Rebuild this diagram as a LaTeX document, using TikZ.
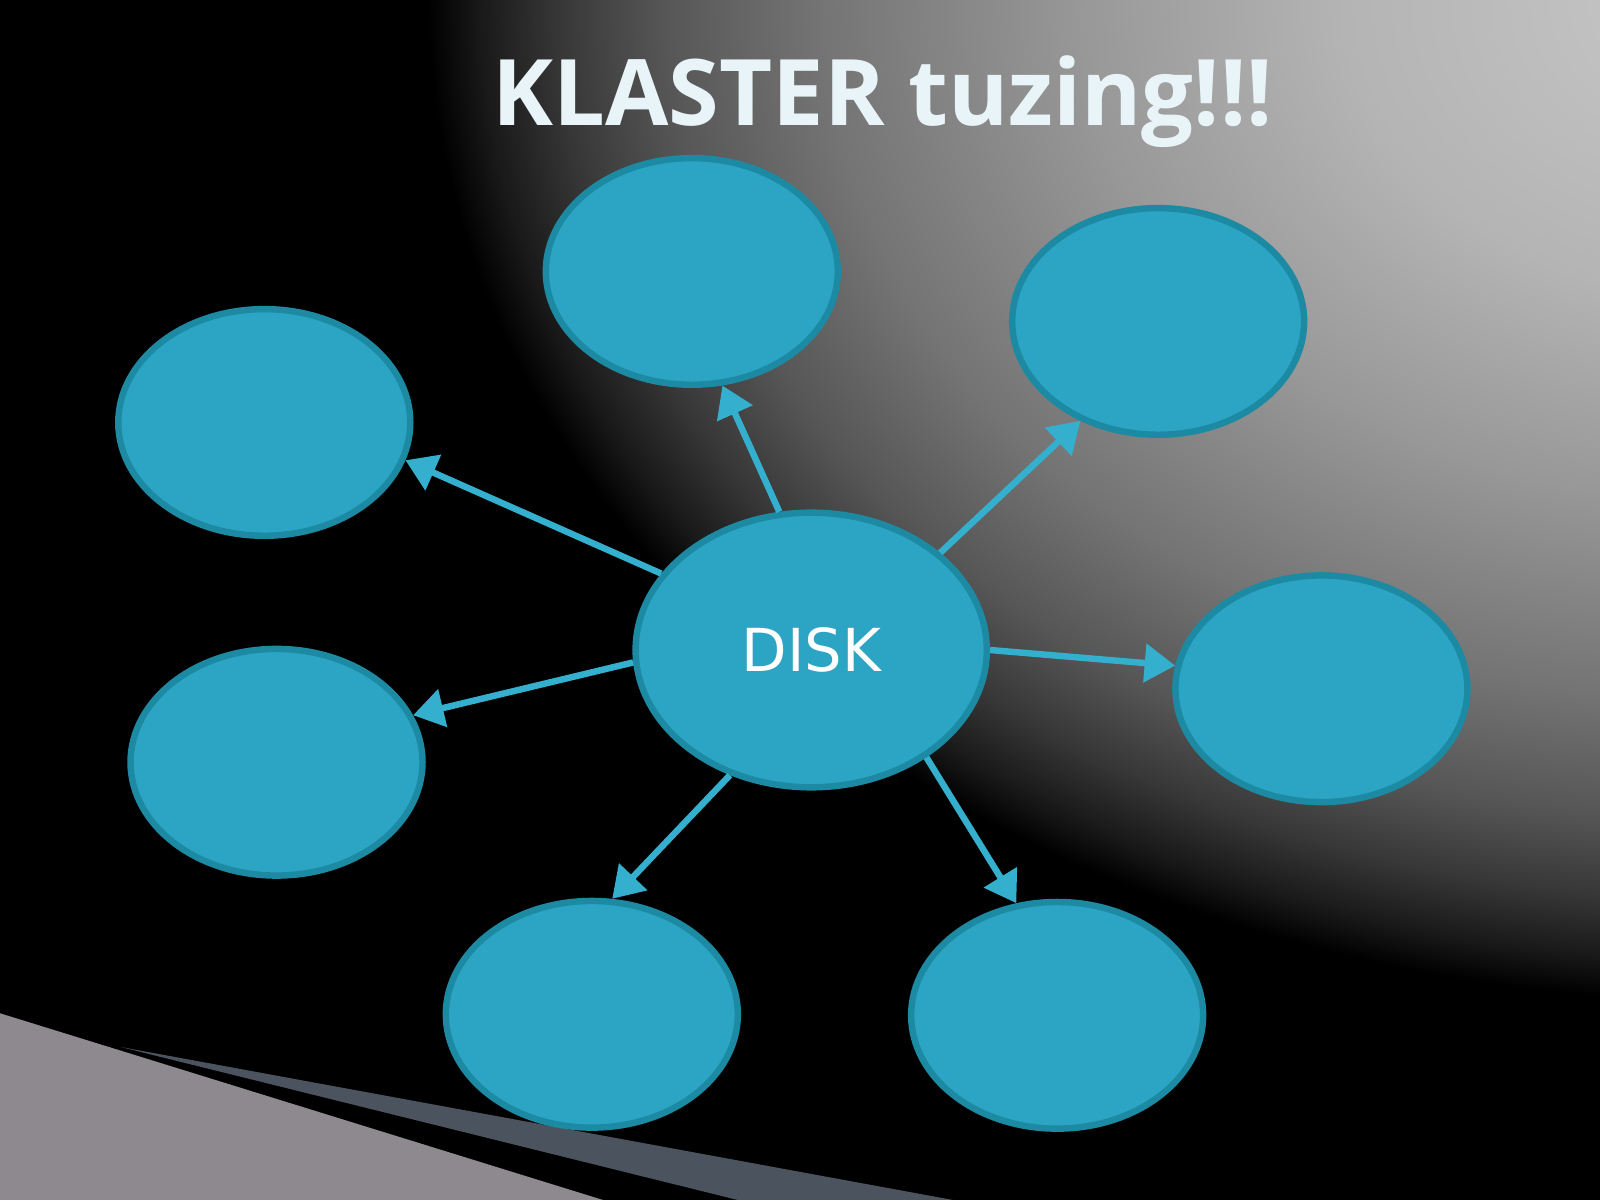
\documentclass[tikz,border=0pt]{standalone}
\usepackage{fontspec}
\setmainfont{Open Sans}
\newfontfamily\dejavu{DejaVu Sans}
\usetikzlibrary{arrows.meta,shapes.geometric}
\definecolor{bubfill}{RGB}{44,165,197}
\definecolor{bubedge}{RGB}{28,138,163}
\definecolor{arrcol}{RGB}{52,175,206}
\definecolor{wedgegray}{RGB}{141,137,142}
\definecolor{slate}{RGB}{75,84,94}
\definecolor{titlecol}{RGB}{232,244,248}
\definecolor{g0}{RGB}{200,200,200}
\definecolor{g1}{RGB}{180,180,180}
\definecolor{g2}{RGB}{152,152,152}
\definecolor{g3}{RGB}{116,116,116}
\definecolor{g4}{RGB}{86,86,86}
\definecolor{g5}{RGB}{55,55,55}
\definecolor{g6}{RGB}{25,25,25}
\pgfdeclareradialshading{glow}{\pgfpoint{0bp}{0bp}}{color(0bp)=(g0); color(7.5bp)=(g1); color(12.5bp)=(g2); color(17.5bp)=(g3); color(20.5bp)=(g4); color(22.5bp)=(g5); color(24bp)=(g6); color(25bp)=(black); color(50bp)=(black)}
\begin{document}
\begin{tikzpicture}[x=0.01cm,y=-0.01cm,
  bubble/.style={ellipse, draw=bubedge, line width=1.8pt, fill=bubfill,
    minimum width=2.86cm, minimum height=2.22cm, inner sep=0pt},
  arr/.style={draw=arrcol, line width=1.8pt, -{Triangle[length=8.5pt,width=10.5pt]}}]
\useasboundingbox (0,0) rectangle (1568,1176);
\fill[black] (0,0) rectangle (1568,1176);
\begin{scope}
\clip (0,0) rectangle (1568,1176);
\shade[shading=glow] (1700,0) ellipse [x radius=12.8cm, y radius=9.8cm];
\end{scope}
% bottom-left wedges
\fill[wedgegray] (0,993) -- (591,1176) -- (0,1176) -- cycle;
\fill[slate] (118,1026) -- (934,1176) -- (723,1176) -- cycle;
% title
\node[font=\bfseries\fontsize{25.6}{30}\selectfont, text=titlecol, anchor=base] (title) at (865,123) {KLASTER tuzing!!!};
% bubbles
\node[bubble] (t) at (678,266) {};
\node[bubble] (tr) at (1135,315) {};
\node[bubble] (lt) at (259,414) {};
\node[bubble] (lb) at (271,747) {};
\node[bubble] (rm) at (1295,675) {};
\node[bubble] (bl) at (580,994) {};
\node[bubble] (br) at (1036,995) {};
\node[bubble, minimum width=3.44cm, minimum height=2.69cm, text=white,
  font=\dejavu\fontsize{16.5}{20}\selectfont] (disk) at (795,637) {DISK};
% arrows
\draw[arr] (disk.103.5) -- (t.285);
\draw[arr] (disk.37.8) -- (tr.232);
\draw[arr] (disk.153.4) -- (lt.345);
\draw[arr] (disk.184) -- (lb.19.3);
\draw[arr] (disk.0) -- (rm.171.7);
\draw[arr] (disk.237.3) -- (bl.80);
\draw[arr] (disk.317.7) -- (br.110.8);
\end{tikzpicture}
\end{document}
